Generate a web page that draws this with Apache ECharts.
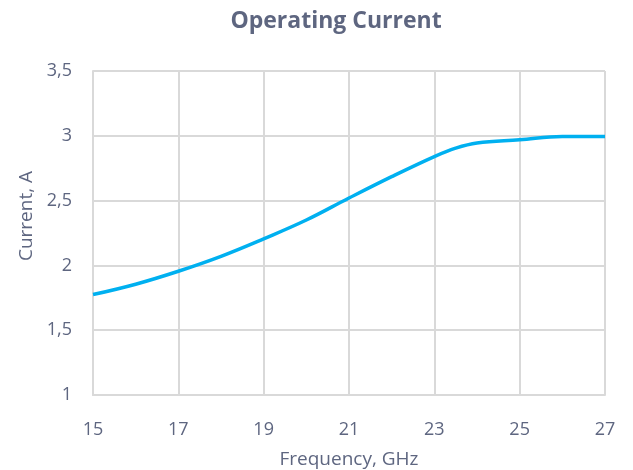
<!DOCTYPE html>
<html>
<head>
<meta charset="utf-8">
<script src="https://cdn.jsdelivr.net/npm/echarts@6/dist/echarts.min.js"></script>
<style>html,body{margin:0;padding:0;background:#fff}#c{width:633px;height:470px}</style>
</head>
<body>
<div id="c"></div>
<script>
const freqGHz = [15, 16, 17, 18, 19, 20, 21, 22, 23, 23.5, 24, 25, 26, 27];
const currentA = [1.775, 1.855, 1.955, 2.07, 2.205, 2.35, 2.52, 2.685, 2.84, 2.905, 2.945, 2.97, 2.995, 2.995];
const xTicks = [15, 17, 19, 21, 23, 25, 27];
const yTicks = [1, 1.5, 2, 2.5, 3, 3.5];

const textColor = '#5e6680';
const gridColor = '#d9d9d9';
const font = '"Open Sans", sans-serif';

const chart = echarts.init(document.getElementById('c'), null, {renderer: 'canvas'});
chart.setOption({
  animation: false,
  backgroundColor: '#fff',
  title: {
    text: 'Operating Current',
    left: 331, top: 5, textAlign: 'center',
    textStyle: {fontFamily: font, fontWeight: 'bold', fontSize: 23, color: textColor}
  },
  grid: {left: 93, right: 28, top: 71, bottom: 75, containLabel: false, outerBoundsMode: 'none'},
  xAxis: {
    type: 'value', min: xTicks[0], max: xTicks[xTicks.length - 1], interval: 2,
    name: 'Frequency, GHz', nameLocation: 'middle', nameGap: 55,
    nameTextStyle: {fontFamily: font, fontSize: 19, color: textColor},
    axisLine: {show: true, lineStyle: {color: gridColor, width: 2}},
    axisTick: {show: false},
    axisLabel: {fontFamily: font, fontSize: 18, color: textColor, margin: 26},
    splitLine: {show: true, lineStyle: {color: gridColor, width: 2}}
  },
  yAxis: {
    type: 'value', min: yTicks[0], max: yTicks[yTicks.length - 1], interval: 0.5,
    axisLine: {show: true, lineStyle: {color: gridColor, width: 2}},
    axisTick: {show: false},
    axisLabel: {fontFamily: font, fontSize: 18, color: textColor, margin: 21,
      formatter: v => String(v).replace('.', ',')},
    splitLine: {show: true, lineStyle: {color: gridColor, width: 2}}
  },
  graphic: [{
    type: 'text', x: 27, y: 216, rotation: Math.PI / 2,
    style: {text: 'Current, A', fill: textColor, font: '19px "Open Sans", sans-serif',
      textAlign: 'center', textVerticalAlign: 'middle'}
  }],
  series: [{
    type: 'line', smooth: 0.4, showSymbol: false,
    data: freqGHz.map((f, i) => [f, currentA[i]]),
    lineStyle: {color: '#00b0f0', width: 3.5},
    itemStyle: {color: '#00b0f0'}
  }]
});
</script>
</body>
</html>
